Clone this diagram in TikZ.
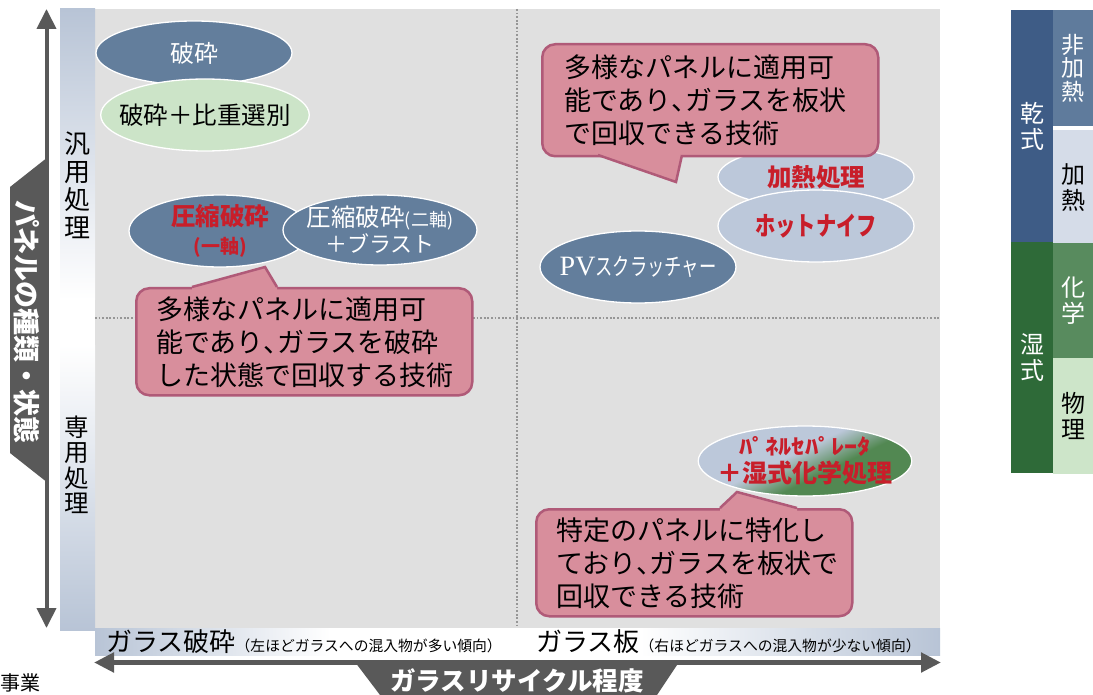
\documentclass[tikz,border=0pt]{standalone}
\usepackage{fontspec}
\setmainfont{Noto Sans CJK JP}
\newfontfamily\jpcond{Noto Sans CJK JP}[FakeStretch=0.72]
\newfontfamily\jpcondb{Noto Sans CJK JP}[FakeStretch=0.78]
\newfontfamily\jpwide{Noto Sans CJK JP}[FakeStretch=1.25]
\newfontfamily\pvserif{Liberation Serif}
\usetikzlibrary{shapes.geometric,arrows.meta}
\definecolor{panelgray}{RGB}{224,224,224}
\definecolor{stripblue}{RGB}{184,196,214}
\definecolor{ellblue}{RGB}{99,126,156}
\definecolor{ellgreen}{RGB}{204,228,200}
\definecolor{ellpale}{RGB}{188,200,218}
\definecolor{sepgreen}{RGB}{82,136,82}
\definecolor{redtxt}{RGB}{200,30,42}
\definecolor{calpink}{RGB}{216,142,156}
\definecolor{calborder}{RGB}{176,90,120}
\definecolor{arrowgray}{RGB}{89,89,89}
\definecolor{dotgray}{RGB}{150,150,150}
\definecolor{legdry}{RGB}{62,92,134}
\definecolor{legdrymid}{RGB}{95,123,156}
\definecolor{legdrylight}{RGB}{213,220,232}
\definecolor{legwet}{RGB}{46,106,56}
\definecolor{legwetmid}{RGB}{88,139,94}
\definecolor{legwetlight}{RGB}{205,229,201}
\pgfdeclarehorizontalshading{sepshade}{100bp}{color(0bp)=(ellpale); color(45bp)=(ellpale); color(58bp)=(sepgreen); color(100bp)=(sepgreen)}
\newcommand\jfs[2]{\fontsize{#1}{#2}\selectfont}
\newcommand\halfcomma{\makebox[0.5em][l]{、}}
\tikzset{bigtip/.tip={Triangle[length=20pt,width=19pt]}}
\begin{document}
\begin{tikzpicture}[x=1pt,y=-1pt,
  ell/.style={ellipse, draw=white, line width=1.3pt, inner sep=-12pt, align=center, minimum width=196pt, minimum height=72pt},
  callout/.style={rectangle, rounded corners=13pt, fill=calpink, draw=calborder, line width=2.5pt, align=left, anchor=north west, inner ysep=0pt, font=\jfs{27}{33}},
  ptrfill/.style={fill=calpink},
  ptrline/.style={draw=calborder, line width=2.5pt, line join=miter},
  dotline/.style={draw=dotgray, line width=1.6pt, dash pattern=on 1.8pt off 1.8pt},
  legbox/.style={rectangle, inner sep=0pt, align=center, font=\jfs{24}{26}}
]
\useasboundingbox (0,0) rectangle (1093,695);
% panel and strips
\fill[panelgray] (95,9) rectangle (940,628);
\shade[top color=stripblue, bottom color=white] (60,9) rectangle (95,300);
\fill[white] (60,300) rectangle (95,345);
\shade[top color=white, bottom color=stripblue] (60,345) rectangle (95,630);
\shade[left color=stripblue, right color=white] (95,628) rectangle (330,655);
\fill[white] (330,628) rectangle (640,655);
\shade[left color=white, right color=stripblue] (640,628) rectangle (940,655);
% dividers
\coordinate (dvt) at (517,9); \coordinate (dvb) at (517,628);
\coordinate (dhl) at (95,318); \coordinate (dhr) at (940,318);
\draw[dotline] (dvt) -- (dvb);
\draw[dotline] (dhl) -- (dhr);
% ellipses
\node[ell, fill=ellblue, minimum height=64pt, text=white, font=\jfs{24}{24}] (e1) at (194,53) {破砕};
\node[ell, fill=ellgreen, font=\jfs{24.5}{24}] (e2) at (205,115) {破砕＋比重選別};
\node[ell, fill=ellblue, minimum width=182pt, text=redtxt, font=\bfseries\jfs{24.5}{28}] (e3) at (220,231) {圧縮破砕\\{\jfs{19}{28}(一軸)}};
\node[ell, fill=ellblue, minimum width=194pt, minimum height=70pt, text=white, font=\jfs{24.5}{26}] (e4) at (380,230) {圧縮破砕{\jfs{18}{26}(二軸)}\\{\jfs{22}{26}＋ブラスト}};
\node[ell, fill=ellpale, minimum height=62pt, text=redtxt, font=\bfseries\jfs{24.5}{24}] (e5) at (816,177) {加熱処理};
\node[ell, fill=ellpale, text=redtxt, font=\jpcondb\bfseries\jfs{26}{26}] (e6) at (816,226) {ホットナイフ};
\node[ell, fill=ellblue, text=white] (e7) at (638,267) {{\pvserif\jfs{28}{28}PV}{\jpcond\jfs{24}{24}スクラッチャー}};
\node[ell, minimum height=70pt, shading=sepshade, shading angle=-64, text=redtxt, font=\bfseries\jfs{25}{28}] (e8) at (805,461) {{\jpwide\jfs{21}{28}ﾊﾟﾈﾙｾﾊﾟﾚｰﾀ}\\＋湿式化学処理};
% callouts
\node[callout, minimum width=336pt, minimum height=112pt, text width=292pt, inner xsep=22pt] (cA) at (541,43) {多様なパネルに適用可\\能であり\halfcomma ガラスを板状\\で回収できる技術};
\coordinate (aL) at (598,155); \coordinate (aT) at (676,182); \coordinate (aR) at (682,155);
\fill[ptrfill] (598,150) -- (aL) -- (aT) -- (aR) -- (682,150) -- cycle;
\draw[ptrline] (aL) -- (aT) -- (aR);
\node[callout, minimum width=336pt, minimum height=107pt, text width=296pt, inner xsep=20pt] (cB) at (135,287) {多様なパネルに適用可\\能であり\halfcomma ガラスを破砕\\した状態で回収する技術};
\coordinate (bL) at (192,287); \coordinate (bT) at (265,267); \coordinate (bR) at (277,287);
\fill[ptrfill] (192,292) -- (bL) -- (bT) -- (bR) -- (277,292) -- cycle;
\draw[ptrline] (bL) -- (bT) -- (bR);
\node[callout, minimum width=316pt, minimum height=107pt, text width=276pt, inner xsep=20pt] (cC) at (535,508) {特定のパネルに特化し\\ており\halfcomma ガラスを板状で\\回収できる技術};
\coordinate (cL) at (720,508); \coordinate (cT) at (737,492); \coordinate (cR) at (797,508);
\fill[ptrfill] (720,513) -- (cL) -- (cT) -- (cR) -- (797,513) -- cycle;
\draw[ptrline] (cL) -- (cT) -- (cR);
% vertical axis
\fill[arrowgray] (48,157) -- (48,483) -- (10,453) -- (10,187) -- cycle;
\coordinate (vtop) at (46.5,9); \coordinate (vbot) at (46.5,628);
\draw[arrowgray, line width=4pt, {bigtip}-{bigtip}] (vtop) -- (vbot);
\node[rotate=-90, text=white, font=\bfseries\jfs{27}{27}, inner sep=0pt] (ylab) at (27,322) {パネルの種類・状態};
\node[font=\jfs{26}{28}, align=center, inner sep=0pt] (gen) at (77,185) {汎\\用\\処\\理};
\node[font=\jfs{24.5}{25.5}, align=center, inner sep=0pt] (spe) at (77,465) {専\\用\\処\\理};
% horizontal axis
\coordinate (hleft) at (94,662.5); \coordinate (hright) at (941,662.5);
\fill[arrowgray] (355,662) -- (679,662) -- (657,695) -- (380,695) -- cycle;
\draw[arrowgray, line width=5pt, {bigtip}-{bigtip}] (hleft) -- (hright);
\node[text=white, font=\bfseries\jfs{25.5}{25}, inner sep=0pt] (xlab) at (517,681) {ガラスリサイクル程度};
\node[anchor=base west, inner sep=0pt] (gl) at (106,651) {{\jfs{26}{26}ガラス破砕}{\jfs{14.8}{15}（左ほどガラスへの混入物が多い傾向）}};
\node[anchor=base west, inner sep=0pt] (gr) at (536,651) {{\jfs{26}{26}ガラス板}{\jfs{14.8}{15}（右ほどガラスへの混入物が少ない傾向）}};
\node[font=\jfs{20}{20}, anchor=west, inner sep=0pt] (jg) at (0,683) {事業};
% legend
\node[legbox, fill=legdry, minimum width=42pt, minimum height=232pt, text=white] (dry) at (1032,126) {乾\\式};
\node[legbox, fill=legwet, minimum width=42pt, minimum height=231pt, text=white] (wet) at (1032,357.5) {湿\\式};
\node[legbox, fill=legdrymid, minimum width=40pt, minimum height=116pt, text=white, font=\jfs{23}{23.5}] (nh) at (1073,68) {非\\加\\熱};
\node[legbox, fill=legdrylight, minimum width=40pt, minimum height=116pt] (ht) at (1073,188) {加\\熱};
\node[legbox, fill=legwetmid, minimum width=40pt, minimum height=115pt, text=white] (ch) at (1073,300.5) {化\\学};
\node[legbox, fill=legwetlight, minimum width=40pt, minimum height=116pt] (ph) at (1073,416) {物\\理};
\end{tikzpicture}
\end{document}
